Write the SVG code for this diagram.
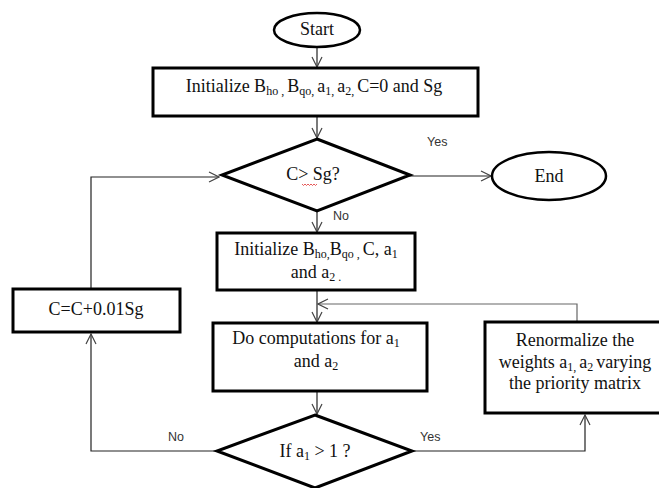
<svg xmlns="http://www.w3.org/2000/svg" width="659" height="488" viewBox="0 0 659 488">
<style>
.box{fill:#fff;stroke:#000;stroke-width:3}
.term{fill:#fff;stroke:#000;stroke-width:2.5}
.t{font-family:"Liberation Serif",serif;font-size:18px;fill:#111;text-anchor:middle}
.s{font-size:12px}
.lbl{font-family:"Liberation Sans",sans-serif;font-size:12.5px;fill:#333}
.c{fill:none;stroke:#222;stroke-width:1.2}
.g{fill:none;stroke:#666;stroke-width:1.2}
</style>
<defs>
<marker id="ah" markerWidth="12" markerHeight="12" refX="11" refY="6" orient="auto" markerUnits="userSpaceOnUse">
<polyline points="1,1 11,6 1,11" fill="none" stroke="#444" stroke-width="1.2"/>
</marker>
</defs>
<g id="connectors">
<line class="c" x1="317" y1="47" x2="317" y2="67" marker-end="url(#ah)"/>
<line class="c" x1="317" y1="117" x2="317" y2="138" marker-end="url(#ah)"/>
<line class="c" x1="408" y1="176" x2="491" y2="176" marker-end="url(#ah)"/>
<line class="c" x1="317" y1="211" x2="317" y2="232" marker-end="url(#ah)"/>
<line class="c" x1="317" y1="291" x2="317" y2="322" marker-end="url(#ah)"/>
<polyline class="g" points="577,322 577,304 318,304" marker-end="url(#ah)"/>
<line class="c" x1="317" y1="392" x2="317" y2="414" marker-end="url(#ah)"/>
<polyline class="c" points="91,289 91,177 219,177" marker-end="url(#ah)"/>
<polyline class="c" points="217,451 91,451 91,334" marker-end="url(#ah)"/>
<polyline class="c" points="412,451 585,451 585,415" marker-end="url(#ah)"/>
<text class="lbl" x="427" y="146">Yes</text>
<text class="lbl" x="333" y="220">No</text>
<text class="lbl" x="168" y="441">No</text>
<text class="lbl" x="420" y="441">Yes</text>
</g>
<g id="start">
<ellipse class="term" cx="317" cy="30" rx="43" ry="17"/>
<text class="t" x="317" y="35">Start</text>
</g>
<g id="init1">
<rect class="box" x="153" y="68" width="325" height="48"/>
<text class="t" x="314" y="92">Initialize B<tspan class="s" dy="3">ho , </tspan><tspan dy="-3">B</tspan><tspan class="s" dy="3">qo, </tspan><tspan dy="-3">a</tspan><tspan class="s" dy="3">1, </tspan><tspan dy="-3">a</tspan><tspan class="s" dy="3">2, </tspan><tspan dy="-3">C=0 and Sg</tspan></text>
</g>
<g id="decision1">
<polygon class="box" points="317,139 410,175 317,211 222,175"/>
<text class="t" x="313" y="180">C&gt; Sg?</text>
<path d="M302,184 l1.5,1.5 l1.5,-1.5 l1.5,1.5 l1.5,-1.5 l1.5,1.5 l1.5,-1.5 l1.5,1.5 l1.5,-1.5 l1.5,1.5 l1.5,-1.5" fill="none" stroke="#e03030" stroke-width="0.8"/>
</g>
<g id="end">
<ellipse class="term" cx="549" cy="176" rx="57" ry="24"/>
<text class="t" x="549" y="182">End</text>
</g>
<g id="init2">
<rect class="box" x="217" y="233" width="198" height="57"/>
<text class="t" x="316" y="255">Initialize B<tspan class="s" dy="3">ho,</tspan><tspan dy="-3">B</tspan><tspan class="s" dy="3">qo , </tspan><tspan dy="-3">C, a</tspan><tspan class="s" dy="3">1</tspan></text>
<text class="t" x="316" y="278">and a<tspan class="s" dy="3">2 .</tspan></text>
</g>
<g id="increment">
<rect class="box" x="13" y="289" width="167" height="43"/>
<text class="t" x="96" y="315">C=C+0.01Sg</text>
</g>
<g id="compute">
<rect class="box" x="213" y="323" width="214" height="68"/>
<text class="t" x="316" y="344">Do computations for a<tspan class="s" dy="3">1</tspan></text>
<text class="t" x="316" y="367">and a<tspan class="s" dy="3">2</tspan></text>
</g>
<g id="renormalize">
<rect class="box" x="485" y="322" width="176" height="91"/>
<text class="t" x="575" y="346">Renormalize the</text>
<text class="t" x="575" y="368">weights a<tspan class="s" dy="3">1, </tspan><tspan dy="-3">a</tspan><tspan class="s" dy="3">2 </tspan><tspan dy="-3">varying</tspan></text>
<text class="t" x="575" y="389">the priority matrix</text>
</g>
<g id="decision2">
<polygon class="box" points="315,415 412,451 315,488 217,451"/>
<text class="t" x="315" y="457">If a<tspan class="s" dy="3">1</tspan><tspan dy="-3"> &gt; 1 ?</tspan></text>
</g>
</svg>
